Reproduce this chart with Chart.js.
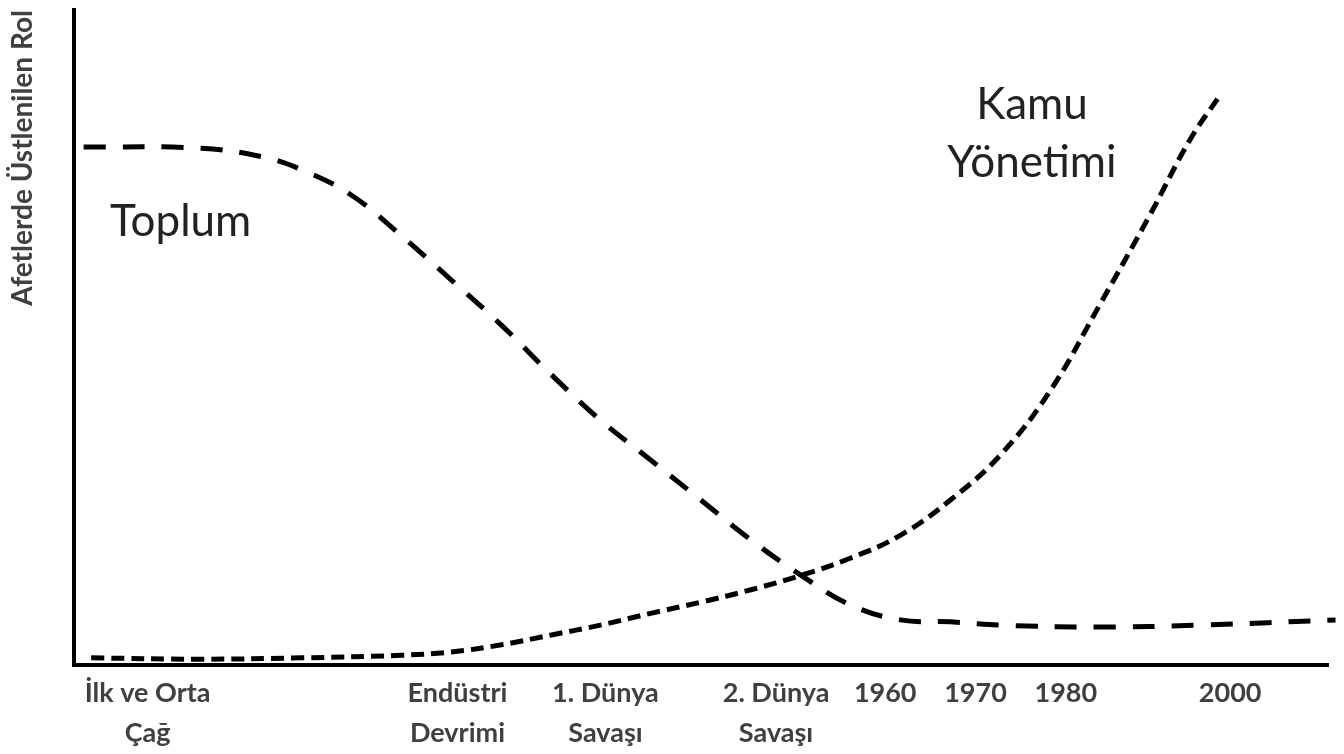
<!DOCTYPE html>
<html>
<head>
<meta charset="utf-8">
<script src="https://cdn.jsdelivr.net/npm/chart.js@4/dist/chart.umd.min.js"></script>
<style>
  html, body { margin: 0; padding: 0; background: #fff; }
  #wrap { width: 1344px; height: 754px; }
</style>
</head>
<body>
<div id="wrap"><canvas id="c" width="1344" height="754"></canvas></div>
<script>
// Era tick positions (on a 0-100 relative time axis) and labels
const tickPositions = [5.9, 30.6, 42.4, 56.0, 64.7, 71.9, 79.1, 92.2];
const tickLabels = [
  ["İlk ve Orta", "Çağ"],
  ["Endüstri", "Devrimi"],
  ["1. Dünya", "Savaşı"],
  ["2. Dünya", "Savaşı"],
  ["1960"], ["1970"], ["1980"], ["2000"]
];

// Toplum (community) role curve
const toplumX = [0.8, 10.2, 15.0, 18.2, 22.1, 26.1, 30.1, 34.1, 38.1, 42.0, 46.0, 50.0, 54.0, 58.0, 61.9, 65.9, 69.9, 73.9, 81.8, 89.8, 100.6];
const toplumY = [79.1, 78.9, 77.6, 75.6, 71.8, 65.6, 58.8, 51.9, 44.3, 37.4, 31.3, 25.2, 19.1, 13.7, 9.2, 6.9, 6.6, 6.1, 5.8, 6.1, 6.9];

// Kamu Yönetimi (public administration) role curve
const kamuX = [1.4, 10.2, 18.2, 26.1, 30.1, 34.1, 38.1, 42.0, 46.0, 50.0, 54.0, 58.0, 61.9, 65.9, 69.9, 73.9, 77.9, 81.8, 85.8, 89.0, 91.4];
const kamuY = [1.1, 0.9, 1.1, 1.5, 2.0, 3.1, 4.6, 6.1, 7.9, 9.6, 11.5, 13.7, 16.3, 19.8, 25.2, 32.1, 42.0, 55.0, 68.7, 80.2, 87.0];

const seriesNames = ["Toplum", "Kamu Yönetimi"];
const yTitle = "Afetlerde Üstlenilen Rol";

const toPoints = (xs, ys) => xs.map((x, i) => ({ x: x, y: ys[i] }));

// In-chart series labels (layout only)
const annotations = [
  { lines: ["Toplum"], x: 2.9, y: 67.6, align: "left" },
  { lines: ["Kamu", "Yönetimi"], x: 76.4, y: 85.5, align: "center" }
];

const labelPlugin = {
  id: "seriesLabels",
  afterDatasetsDraw(chart) {
    const { ctx, scales } = chart;
    ctx.save();
    ctx.fillStyle = "#222";
    ctx.font = "44px Lato";
    ctx.textBaseline = "middle";
    annotations.forEach(a => {
      ctx.textAlign = a.align;
      const px = scales.x.getPixelForValue(a.x);
      const py = scales.y.getPixelForValue(a.y);
      a.lines.forEach((t, i) => ctx.fillText(t, px, py + i * 58));
    });
    ctx.restore();
  }
};

new Chart(document.getElementById("c"), {
  type: "line",
  data: {
    datasets: [
      {
        label: seriesNames[0],
        data: toPoints(toplumX, toplumY),
        borderColor: "#000",
        borderWidth: 5,
        borderDash: [22, 17],
        pointRadius: 0,
        tension: 0.4,
        fill: false,
        clip: false
      },
      {
        label: seriesNames[1],
        data: toPoints(kamuX, kamuY),
        borderColor: "#000",
        borderWidth: 5,
        borderDash: [13, 7],
        pointRadius: 0,
        tension: 0.4,
        fill: false,
        clip: false
      }
    ]
  },
  options: {
    responsive: false,
    animation: false,
    layout: { padding: { top: 10, right: 16, bottom: -7, left: 0 } },
    plugins: { legend: { display: false }, tooltip: { enabled: false } },
    scales: {
      x: {
        type: "linear",
        min: 0,
        max: 100,
        grid: { display: false, drawTicks: false, tickLength: 0 },
        border: { display: true, color: "#000", width: 4 },
        afterBuildTicks(scale) {
          scale.ticks = tickPositions.map(v => ({ value: v }));
        },
        ticks: {
          autoSkip: false,
          maxRotation: 0,
          padding: 8,
          color: "#404040",
          font: { family: "Lato", size: 27, weight: "bold", lineHeight: 1.48 },
          callback(value) {
            const i = tickPositions.indexOf(value);
            return i >= 0 ? tickLabels[i] : "";
          }
        }
      },
      y: {
        min: 0,
        max: 100,
        grid: { display: false, drawTicks: false, tickLength: 0 },
        border: { display: true, color: "#000", width: 4 },
        ticks: { display: false },
        title: {
          display: true,
          text: yTitle,
          align: "end",
          color: "#404040",
          font: { family: "Lato", size: 28, weight: "bold" },
          padding: { top: 6, bottom: 34 }
        }
      }
    }
  },
  plugins: [labelPlugin]
});
</script>
</body>
</html>
